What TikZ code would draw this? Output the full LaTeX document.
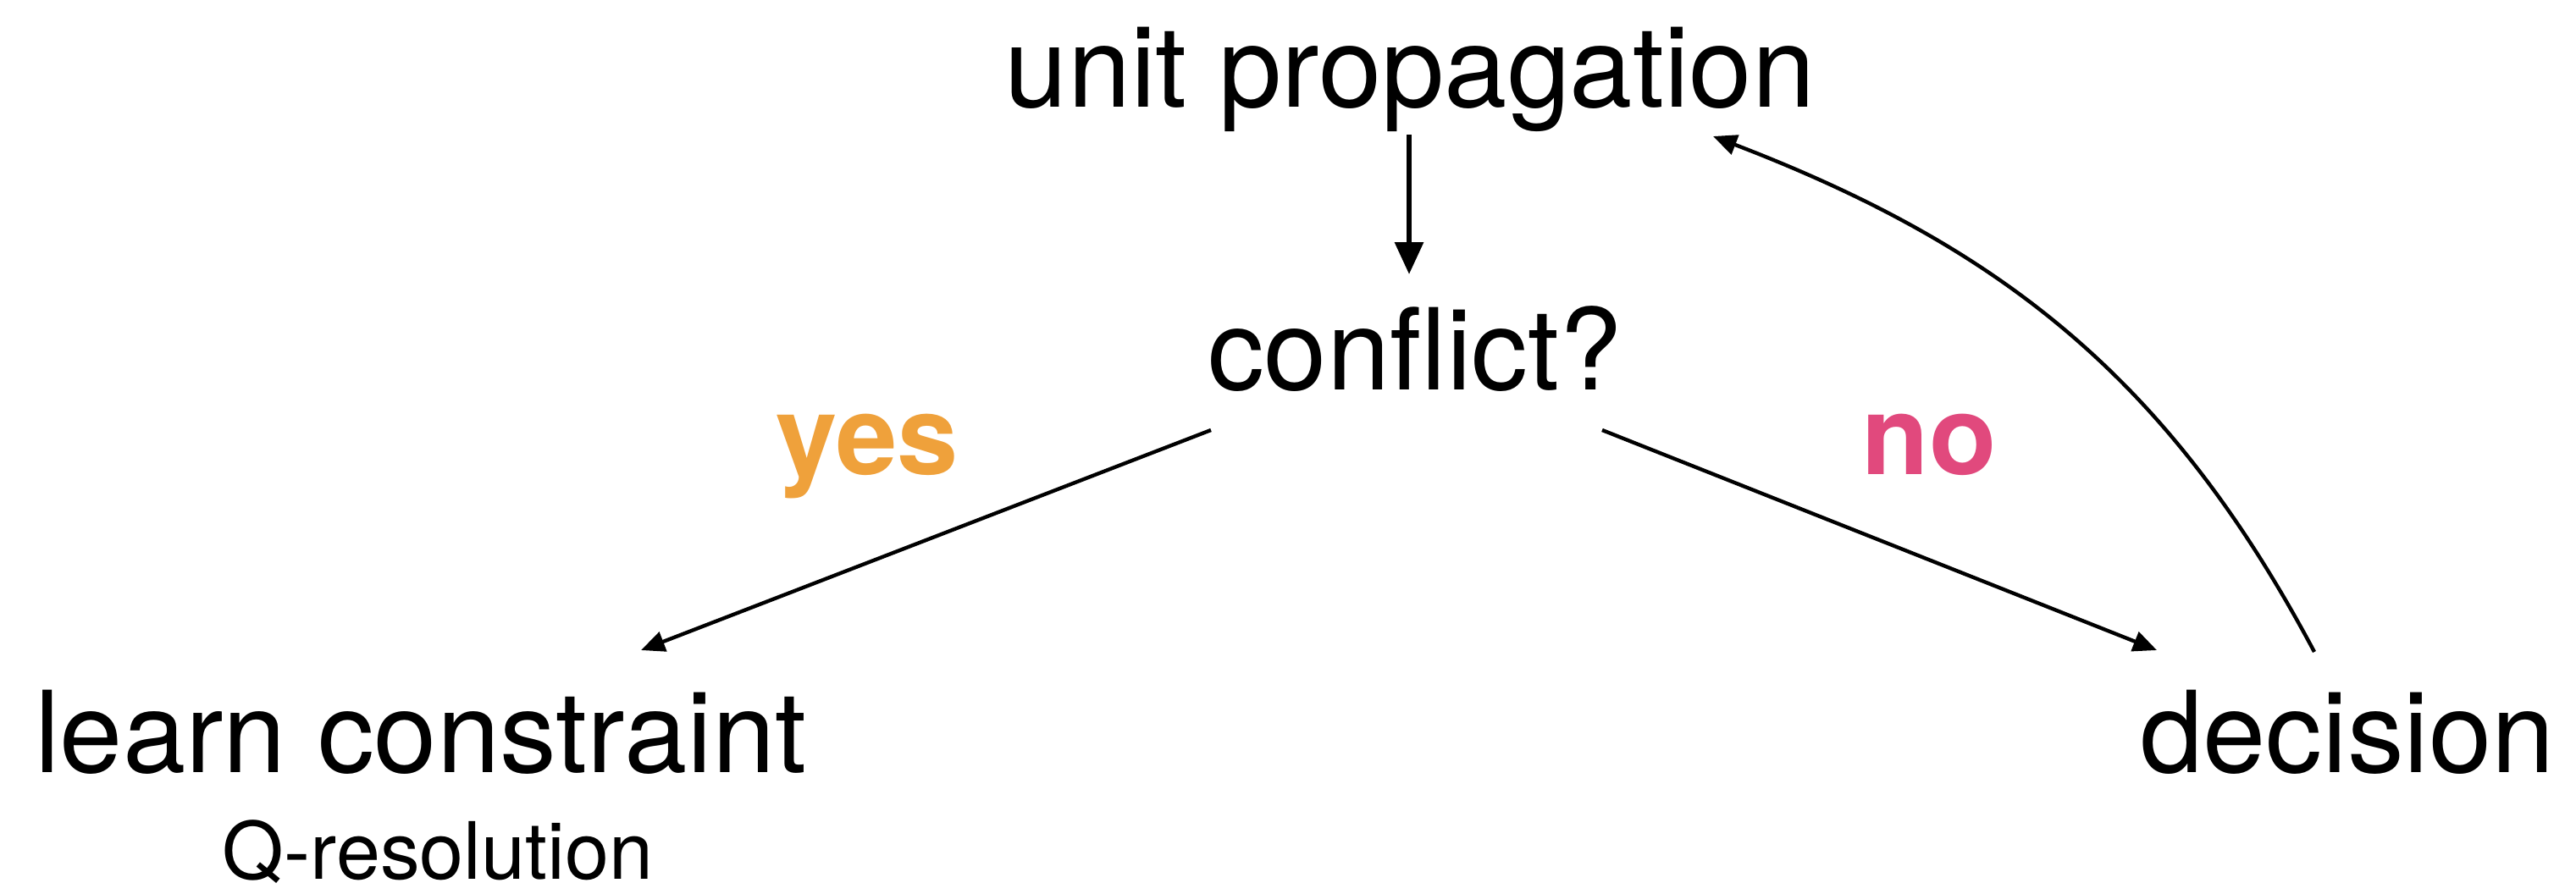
\documentclass[tikz,border=0pt]{standalone}
\usepackage{fontspec}
\setmainfont{TeX Gyre Heros}
\usetikzlibrary{arrows.meta}

\definecolor{yesorange}{RGB}{239,161,59}
\definecolor{nopink}{RGB}{225,73,125}

\begin{document}
\begin{tikzpicture}[
    state/.style={anchor=base, inner sep=0pt, font=\fontsize{38}{44}\selectfont},
    note/.style={anchor=base, inner sep=0pt, font=\fontsize{26.6}{30}\selectfont},
    answer/.style={anchor=base, inner sep=0pt, font=\fontsize{37}{42}\selectfont\bfseries},
    flow/.style={-{Triangle[length=0.28cm,width=0.24cm]}, line width=1.25pt},
    mainflow/.style={-{Triangle[length=0.38cm,width=0.33cm]}, line width=1.8pt}
]
    \useasboundingbox (0,0) rectangle (30.42,10.55);

    % solver loop states
    \node[state] (up)    at (16.65,9.29) {unit propagation};
    \node[state] (conf)  at (16.71,5.95) {conflict?};
    \node[state] (learn) at (4.97,1.43)  {learn constraint};
    \node[note]  (qres)  at (5.17,0.17)  {Q-resolution};
    \node[state] (dec)   at (27.72,1.43) {decision};

    % branch labels
    \node[answer, text=yesorange] (yes) at (10.24,4.95) {yes};
    \node[answer, text=nopink]    (no)  at (22.78,4.95) {no};

    % transitions
    \draw[mainflow] ([xshift=-0.01cm,yshift=-0.33cm]up.base) -- ([xshift=-0.07cm,yshift=1.36cm]conf.base);
    \draw[flow] ([xshift=-2.41cm,yshift=-0.48cm]conf.base) -- ([xshift=2.60cm,yshift=1.44cm]learn.base);
    \draw[flow] ([xshift=2.21cm,yshift=-0.48cm]conf.base) -- ([xshift=-2.25cm,yshift=1.44cm]dec.base);
    \draw[flow] ([xshift=-0.39cm,yshift=1.42cm]dec.base) to[out=118, in=-21] ([xshift=3.58cm,yshift=-0.35cm]up.base);
\end{tikzpicture}
\end{document}
